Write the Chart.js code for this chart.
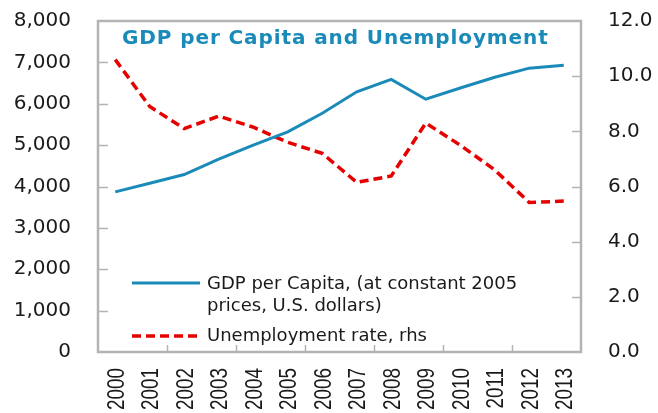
<!DOCTYPE html>
<html>
<head>
<meta charset="utf-8">
<script src="https://cdn.jsdelivr.net/npm/chart.js@4"></script>
<style>
html,body{margin:0;padding:0;background:#fff;}
#wrap{position:relative;width:658px;height:413px;}
</style>
</head>
<body>
<div id="wrap"><canvas id="c" width="658" height="413"></canvas></div>
<script>
const years = ['2000','2001','2002','2003','2004','2005','2006','2007','2008','2009','2010','2011','2012','2013'];
const gdpPerCapita = [3870, 4080, 4290, 4660, 5000, 5320, 5770, 6290, 6590, 6110, 6380, 6640, 6860, 6930];
const unemploymentRate = [10.6, 8.9, 8.1, 8.55, 8.15, 7.6, 7.2, 6.15, 6.38, 8.3, 7.5, 6.6, 5.42, 5.47];
const leftTicks = [0, 1000, 2000, 3000, 4000, 5000, 6000, 7000, 8000];
const rightTicks = [0, 2, 4, 6, 8, 10, 12];
const titleText = 'GDP per Capita and Unemployment';
const legendGdp = ['GDP per Capita, (at constant 2005', 'prices, U.S. dollars)'];
const legendUnemp = ['Unemployment rate, rhs'];

const BLUE = '#1a8ab8';
const RED = '#e60000';
const GRAY = '#b3b3b3';
const TXT = '#1a1a1a';
const FONT = '"DejaVu Sans", Verdana, sans-serif';
const XFONT = '"Liberation Sans", Arial, sans-serif';

const framePlugin = {
  id: 'frame',
  beforeDatasetsDraw(chart) {
    const {ctx, chartArea: a, scales} = chart;
    ctx.save();
    ctx.strokeStyle = GRAY;
    ctx.lineWidth = 1.5;
    leftTicks.forEach(v => {
      if (v === 0 || v === 8000) return;
      const y = Math.round(scales.y.getPixelForValue(v)) + 0.5;
      ctx.beginPath(); ctx.moveTo(a.left, y); ctx.lineTo(a.left + 10, y); ctx.stroke();
    });
    rightTicks.forEach(v => {
      if (v === 0 || v === 12) return;
      const y = Math.round(scales.y1.getPixelForValue(v)) + 0.5;
      ctx.beginPath(); ctx.moveTo(a.right, y); ctx.lineTo(a.right - 9, y); ctx.stroke();
    });
    const step = (a.right - a.left) / years.length;
    for (let k = 2; k < years.length; k += 2) {
      const x = Math.round(a.left + k * step) + 0.5;
      ctx.beginPath(); ctx.moveTo(x, a.bottom); ctx.lineTo(x, a.bottom - 7); ctx.stroke();
    }
    ctx.lineWidth = 2.5;
    ctx.strokeRect(a.left, a.top, a.right - a.left, a.bottom - a.top);
    ctx.restore();
  },
  afterDraw(chart) {
    const {ctx, chartArea: a, scales} = chart;
    ctx.save();
    // x labels (rotated, reading upward, compressed like a narrow face)
    ctx.fillStyle = TXT;
    ctx.font = '23px ' + XFONT;
    ctx.textAlign = 'right';
    ctx.textBaseline = 'middle';
    years.forEach((lab, i) => {
      const x = scales.x.getPixelForValue(i) + 2;
      ctx.save();
      ctx.translate(x, a.bottom + 16);
      ctx.rotate(-Math.PI / 2);
      ctx.scale(0.82, 1);
      ctx.fillText(lab, 0, 0);
      ctx.restore();
    });
    // title
    ctx.fillStyle = BLUE;
    ctx.font = 'bold 20px ' + FONT;
    ctx.letterSpacing = '0.9px';
    ctx.textAlign = 'left';
    ctx.textBaseline = 'middle';
    ctx.fillText(titleText, 122, 39);
    ctx.letterSpacing = '0px';
    // legend
    ctx.font = '18px ' + FONT;
    ctx.fillStyle = TXT;
    ctx.strokeStyle = BLUE;
    ctx.lineWidth = 3;
    ctx.beginPath(); ctx.moveTo(132, 283); ctx.lineTo(200, 283); ctx.stroke();
    ctx.fillText(legendGdp[0], 207, 284);
    ctx.fillText(legendGdp[1], 207, 306);
    ctx.strokeStyle = RED;
    ctx.lineWidth = 3.5;
    ctx.setLineDash([9, 5]);
    ctx.beginPath(); ctx.moveTo(132, 336); ctx.lineTo(200, 336); ctx.stroke();
    ctx.setLineDash([]);
    ctx.fillText(legendUnemp[0], 207, 336);
    ctx.restore();
  }
};

new Chart(document.getElementById('c'), {
  type: 'line',
  data: {
    labels: years,
    datasets: [
      {
        label: legendGdp.join(' '),
        data: gdpPerCapita,
        yAxisID: 'y',
        borderColor: BLUE,
        borderWidth: 3,
        pointRadius: 0,
        tension: 0,
        fill: false
      },
      {
        label: legendUnemp[0],
        data: unemploymentRate,
        yAxisID: 'y1',
        borderColor: RED,
        borderWidth: 3.5,
        borderDash: [9, 5],
        pointRadius: 0,
        tension: 0,
        fill: false
      }
    ]
  },
  options: {
    responsive: false,
    maintainAspectRatio: false,
    animation: false,
    layout: { padding: { top: 21, left: 0, right: 0, bottom: 0 } },
    plugins: { legend: { display: false }, title: { display: false }, tooltip: { enabled: false } },
    scales: {
      x: {
        offset: true,
        grid: { display: false, drawTicks: false },
        border: { display: false },
        ticks: { display: false },
        afterFit(s) { s.height = 61; s.paddingLeft = 0; s.paddingRight = 0; s.paddingTop = 0; s.paddingBottom = 0; }
      },
      y: {
        position: 'left',
        min: 0, max: 8000,
        afterBuildTicks(s) { s.ticks = leftTicks.map(v => ({ value: v })); },
        grid: { display: false, drawTicks: false },
        border: { display: false },
        ticks: {
          color: TXT,
          font: { family: FONT, size: 20 },
          padding: 27,
          callback: v => v.toLocaleString('en-US')
        },
        afterFit(s) { s.width = 98; s.paddingTop = 0; s.paddingBottom = 0; }
      },
      y1: {
        position: 'right',
        min: 0, max: 12,
        afterBuildTicks(s) { s.ticks = rightTicks.map(v => ({ value: v })); },
        grid: { display: false, drawTicks: false },
        border: { display: false },
        ticks: {
          color: TXT,
          font: { family: FONT, size: 20 },
          padding: 27,
          callback: v => v.toFixed(1)
        },
        afterFit(s) { s.width = 77; s.paddingTop = 0; s.paddingBottom = 0; }
      }
    }
  },
  plugins: [framePlugin]
});
</script>
</body>
</html>
